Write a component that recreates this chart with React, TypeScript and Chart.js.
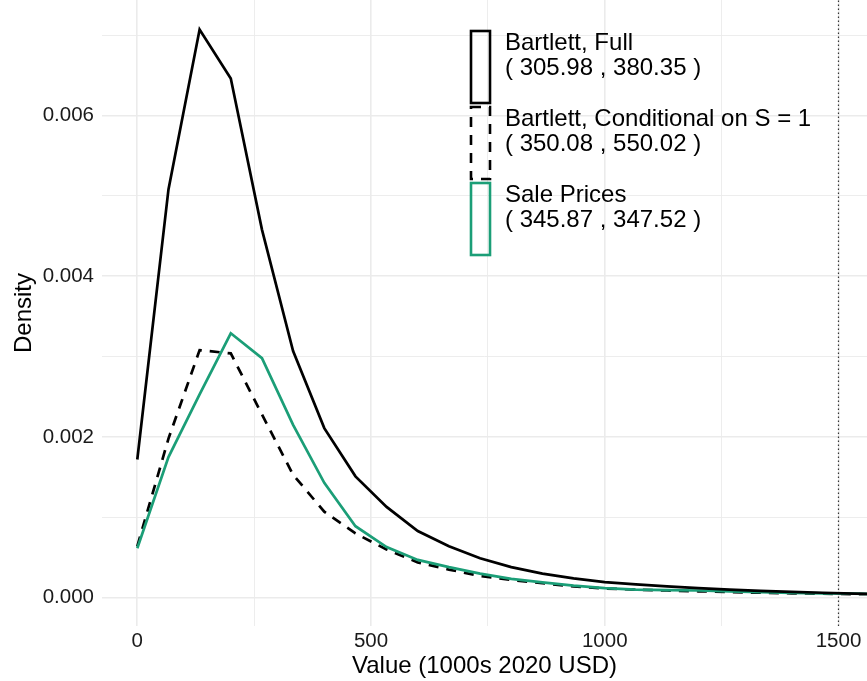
import React, { useEffect, useRef } from "react";
import { Chart, registerables } from "chart.js";

Chart.register(...registerables);

// x positions (1000s 2020 USD)
const xValues = [0, 66.7, 133.3, 200, 266.7, 333.3, 400, 466.7, 533.3, 600, 666.7, 733.3, 800, 866.7, 933.3, 1000, 1066.7, 1133.3, 1200, 1266.7, 1333.3, 1400, 1466.7, 1533.3, 1600];

// densities (x 1e-3)
const bartlettFull = [1.72, 5.08, 7.07, 6.46, 4.58, 3.07, 2.11, 1.51, 1.13, 0.83, 0.64, 0.49, 0.38, 0.30, 0.24, 0.195, 0.165, 0.14, 0.12, 0.10, 0.085, 0.072, 0.062, 0.052, 0.045];
const bartlettCond = [0.64, 1.98, 3.08, 3.04, 2.28, 1.53, 1.07, 0.80, 0.60, 0.44, 0.35, 0.27, 0.22, 0.18, 0.14, 0.115, 0.10, 0.09, 0.08, 0.07, 0.062, 0.055, 0.05, 0.045, 0.04];
const salePrices = [0.615, 1.75, 2.53, 3.29, 2.98, 2.15, 1.43, 0.89, 0.63, 0.47, 0.38, 0.30, 0.235, 0.19, 0.15, 0.12, 0.10, 0.095, 0.09, 0.08, 0.07, 0.06, 0.055, 0.05, 0.045];

const xTicks = [0, 250, 500, 750, 1000, 1250, 1500];
const xMajor = [0, 500, 1000, 1500];
const yTicks = [0, 0.001, 0.002, 0.003, 0.004, 0.005, 0.006, 0.007];
const yMajor = [0, 0.002, 0.004, 0.006];

const legendLabels = ["Bartlett, Full", "Bartlett, Conditional on S = 1", "Sale Prices"];
const legendRanges = ["( 305.98 , 380.35 )", "( 350.08 , 550.02 )", "( 345.87 , 347.52 )"];
const cutoffValue = 1500;

const GREEN = "#1b9e77";
const FONT = "'Liberation Sans', Arial, Helvetica, sans-serif";

const toPoints = (arr: number[]) => arr.map((v, i) => ({ x: xValues[i], y: v / 1000 }));

const isMajor = (list: number[], v: number) => list.some((m) => Math.abs(m - v) < 1e-9);

const legendPlugin = {
  id: "customLegend",
  afterDraw(chart: any) {
    const ctx = chart.ctx;
    ctx.save();
    const boxes = [
      { top: 31, bottom: 103, color: "#000", dash: [] as number[] },
      { top: 107, bottom: 179, color: "#000", dash: [10, 8] },
      { top: 183, bottom: 255, color: GREEN, dash: [] as number[] },
    ];
    const baselines = [
      [50, 75],
      [126, 151],
      [202, 227],
    ];
    boxes.forEach((b, i) => {
      ctx.strokeStyle = b.color;
      ctx.lineWidth = 2.6;
      ctx.setLineDash(b.dash);
      ctx.strokeRect(471, b.top, 19, b.bottom - b.top);
      ctx.setLineDash([]);
      ctx.fillStyle = "#000";
      ctx.font = `24px ${FONT}`;
      ctx.textAlign = "left";
      ctx.textBaseline = "alphabetic";
      ctx.fillText(legendLabels[i], 505, baselines[i][0]);
      ctx.fillText(legendRanges[i], 505, baselines[i][1]);
    });
    ctx.restore();
  },
};

export default function App() {
  const canvasRef = useRef<HTMLCanvasElement | null>(null);

  useEffect(() => {
    if (!canvasRef.current) return;
    const chart = new Chart(canvasRef.current, {
      type: "line",
      data: {
        datasets: [
          {
            label: legendLabels[0],
            data: toPoints(bartlettFull),
            borderColor: "#000",
            borderWidth: 2.7,
            pointRadius: 0,
            tension: 0,
            order: 1,
          },
          {
            label: legendLabels[2],
            data: toPoints(salePrices),
            borderColor: GREEN,
            borderWidth: 2.7,
            pointRadius: 0,
            tension: 0,
            order: 2,
          },
          {
            label: legendLabels[1],
            data: toPoints(bartlettCond),
            borderColor: "#000",
            borderWidth: 2.7,
            borderDash: [10, 8],
            pointRadius: 0,
            tension: 0,
            order: 3,
          },
          {
            label: "cutoff",
            data: [
              { x: cutoffValue, y: -0.001 },
              { x: cutoffValue, y: 0.01 },
            ],
            borderColor: "#333",
            borderWidth: 1.2,
            borderDash: [1.5, 2.5],
            pointRadius: 0,
            order: 4,
          },
        ],
      },
      options: {
        animation: false,
        responsive: true,
        maintainAspectRatio: false,
        layout: { padding: 0 },
        plugins: {
          legend: { display: false },
          tooltip: { enabled: false },
        },
        scales: {
          x: {
            type: "linear",
            min: -75.5,
            max: 1561,
            afterBuildTicks: (scale: any) => {
              scale.ticks = xTicks.map((v) => ({ value: v }));
            },
            afterFit: (scale: any) => {
              scale.height = 55;
              scale.paddingLeft = 0;
              scale.paddingRight = 0;
              scale.paddingTop = 0;
              scale.paddingBottom = 0;
            },
            border: { display: false },
            grid: {
              drawTicks: false,
              color: "#ebebeb",
              lineWidth: (ctx: any) => (ctx.tick && isMajor(xMajor, ctx.tick.value) ? 1.6 : 0.9),
            },
            ticks: {
              padding: 3,
              color: "#1a1a1a",
              font: { family: FONT, size: 20.5 },
              maxRotation: 0,
              autoSkip: false,
              callback: (v: any) => (isMajor(xMajor, Number(v)) ? String(v) : ""),
            },
            title: {
              display: true,
              text: "Value (1000s 2020 USD)",
              color: "#000",
              font: { family: FONT, size: 24, lineHeight: 1.2 },
              padding: { top: 0, bottom: 0 },
            },
          },
          y: {
            type: "linear",
            min: -0.000352,
            max: 0.007437,
            afterBuildTicks: (scale: any) => {
              scale.ticks = yTicks.map((v) => ({ value: v }));
            },
            afterFit: (scale: any) => {
              scale.width = 102;
              scale.paddingLeft = 0;
              scale.paddingRight = 0;
              scale.paddingTop = 0;
              scale.paddingBottom = 0;
            },
            border: { display: false },
            grid: {
              drawTicks: false,
              color: "#ebebeb",
              lineWidth: (ctx: any) => (ctx.tick && isMajor(yMajor, ctx.tick.value) ? 1.6 : 0.9),
            },
            ticks: {
              padding: 8,
              color: "#1a1a1a",
              font: { family: FONT, size: 20.5 },
              autoSkip: false,
              callback: (v: any) => (isMajor(yMajor, Number(v)) ? Number(v).toFixed(3) : ""),
            },
            title: {
              display: true,
              text: "Density",
              color: "#000",
              font: { family: FONT, size: 24, lineHeight: 1.2 },
              padding: { top: 10, bottom: 0 },
            },
          },
        },
      },
      plugins: [legendPlugin],
    } as any);
    return () => chart.destroy();
  }, []);

  return (
    <div style={{ position: "fixed", left: 0, top: 0, width: 867, height: 681, background: "#fff" }}>
      <canvas ref={canvasRef} />
    </div>
  );
}
